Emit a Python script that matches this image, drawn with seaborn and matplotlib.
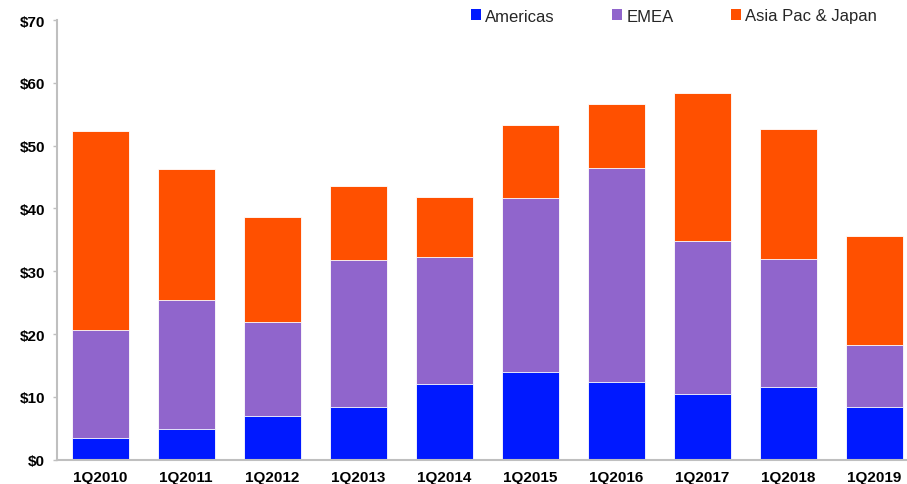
import numpy as np
import pandas as pd
import matplotlib
matplotlib.use("Agg")
import matplotlib.pyplot as plt
from matplotlib.patches import Patch
import seaborn as sns

quarters = ["1Q2010", "1Q2011", "1Q2012", "1Q2013", "1Q2014",
            "1Q2015", "1Q2016", "1Q2017", "1Q2018", "1Q2019"]
americas = [3.5, 4.85, 7.0, 8.45, 12.1, 13.9, 12.4, 10.45, 11.5, 8.45]
emea = [17.1, 20.65, 14.9, 23.3, 20.2, 27.8, 34.0, 24.35, 20.5, 9.75]
asia_pac_japan = [31.7, 20.8, 16.7, 11.85, 9.6, 11.6, 10.2, 23.5, 20.6, 17.4]

series_names = ["Americas", "EMEA", "Asia Pac & Japan"]
colors = ["#0019FF", "#9065CC", "#FF5000"]
y_ticks = [0, 10, 20, 30, 40, 50, 60, 70]

sns.set_theme(style="white")
plt.rcParams["font.family"] = ["Liberation Sans", "DejaVu Sans"]

df = pd.DataFrame({
    "quarter": quarters,
    "Americas": americas,
    "EMEA": emea,
    "Asia Pac & Japan": asia_pac_japan,
})
# running totals so each layer can be drawn as a full-height bar from zero
df["cum_americas"] = df["Americas"]
df["cum_emea"] = df["cum_americas"] + df["EMEA"]
df["cum_apj"] = df["cum_emea"] + df["Asia Pac & Japan"]

W, H = 907, 485
fig = plt.figure(figsize=(W / 100, H / 100), dpi=100)
ax = fig.add_axes([57 / W, (H - 460.7) / H, 860 / W, 439.7 / H])

bar_w = 57 / 86
for col, color in zip(["cum_apj", "cum_emea", "cum_americas"], colors[::-1]):
    sns.barplot(data=df, x="quarter", y=col, color=color, width=bar_w,
                saturation=1, edgecolor="#FFFFFF", linewidth=0.6, ax=ax)

ax.set_ylim(0, 70)
ax.set_xlim(-0.5, 9.5)
ax.set_yticks(y_ticks)
ax.set_yticklabels([f"${v}" for v in y_ticks])
ax.set_xlabel("")
ax.set_ylabel("")

for side in ["top", "right"]:
    ax.spines[side].set_visible(False)
for side in ["left", "bottom"]:
    ax.spines[side].set_color("#BFBFBF")
    ax.spines[side].set_linewidth(1.5)

ax.tick_params(axis="y", which="major", left=True, length=3, width=1,
               color="#BFBFBF", pad=5.6, labelsize=11)
ax.tick_params(axis="x", which="major", bottom=False, length=0, pad=7.3,
               labelsize=11)
for lab in ax.get_xticklabels() + ax.get_yticklabels():
    lab.set_fontweight("bold")
    lab.set_color("black")

handles = [Patch(facecolor=c, edgecolor="none") for c in colors]
fig.legend(handles, series_names, loc="center left",
           bbox_to_anchor=(471 / W, 1 - 17 / H), ncol=3, frameon=False,
           fontsize=12, handlelength=0.6, handleheight=0.6,
           handletextpad=0.25, columnspacing=3.45, borderpad=0,
           borderaxespad=0)

fig.savefig("out.png", dpi=100)
